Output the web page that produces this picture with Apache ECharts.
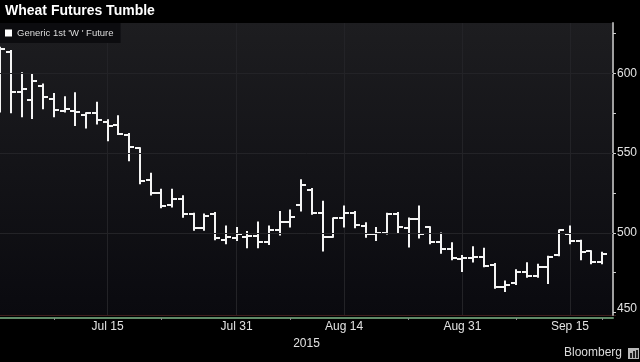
<!DOCTYPE html>
<html><head><meta charset="utf-8">
<script src="https://cdn.jsdelivr.net/npm/echarts@6/dist/echarts.min.js"></script>
<style>html,body{margin:0;padding:0;background:#000;}#c{width:640px;height:362px;}</style>
</head><body><div id="c"></div>
<script>
// ---- data ----
const dates = ['Jun 30','Jul 1','Jul 2','Jul 6','Jul 7','Jul 8','Jul 9','Jul 10','Jul 13','Jul 14',
  'Jul 15','Jul 16','Jul 17','Jul 20','Jul 21','Jul 22','Jul 23','Jul 24','Jul 27','Jul 28',
  'Jul 29','Jul 30','Jul 31','Aug 3','Aug 4','Aug 5','Aug 6','Aug 7','Aug 10','Aug 11',
  'Aug 12','Aug 13','Aug 14','Aug 17','Aug 18','Aug 19','Aug 20','Aug 21','Aug 24','Aug 25',
  'Aug 26','Aug 27','Aug 28','Aug 31','Sep 1','Sep 2','Sep 3','Sep 4','Sep 8','Sep 9',
  'Sep 10','Sep 11','Sep 14','Sep 15','Sep 16','Sep 17','Sep 18','Sep 21'];
const opens  = [595,613.5,588,583,592,584,576.5,576.5,574,575,
  569.5,567.5,561,553,533,525,517.5,521.5,511.5,503,
  512,495.5,497,497.5,498,494.5,501.5,507,517.5,527,
  512.5,497.5,509,512.5,504,499.5,500,512,503,508.5,
  503.5,494,490,483.5,484.5,485,480,466,468.5,475.5,
  473,478.5,486,499.5,495,488.5,481.5];
const highs  = [616,614,600,599,593,587,585,587.5,575,581.5,
  570.5,573,562,553,537,527,527,523,512,511.5,
  512.5,504,503,500.5,506.5,504,513,514,533,527.5,
  519.5,509,516.5,513,506,503,512,512.5,509,516.5,
  503.5,499.5,493.5,485.5,491,490,480.5,469.5,476.5,481,
  480,485,501.5,504,495,488.5,487.5];
const lows   = [576,575.5,573,572,578,573,576,567.5,566,568.5,
  558,562,545.5,531,524,516,516.5,510,502,502,
  496,493.5,495.5,491,491,493,499,504,514,512,
  489,497.5,504,503.5,497.5,495.5,499.5,500.5,491.5,497,
  493.5,487.5,483.5,476,482,479,465.5,463.5,468,472.5,
  472.5,468.5,486,493.5,483.5,481,481];
const closes = [615,588,590,595,585,577,577.5,575.5,575,570.5,
  567,562,553.5,532.5,525,516.5,521,511.5,503,510.5,
  496.5,497.5,499.5,498,494.5,502,507,510,530,512.5,
  497.5,509,512.5,505,499.5,500,512,503.5,508.5,499.5,
  494,490,484,484.5,485,479.5,466,467,475.5,473,
  478.5,485,501.5,495,488,481.5,487];
const seriesName = "Generic 1st 'W ' Future";
const xLabelDates = ['Jul 15','Jul 31','Aug 14','Aug 31','Sep 15'];
const xMinorTickDates = ['Jul 8','Jul 22','Aug 7','Aug 24','Sep 8','Sep 18'];
const yTickValues = [450,475,500,525,550,575,600,625];
const yLabelValues = [450,500,550,600];
const yGridValues = [500,550,600];

const ohlc = opens.map((o,i)=>[i,o,highs[i],lows[i],closes[i]]);

const chart = echarts.init(document.getElementById('c'), null, {renderer:'canvas'});
const FONT = 'Liberation Sans';

function renderItem(params, api){
  const idx = api.value(0);
  const x = Math.round(api.coord([idx, api.value(1)])[0]);
  const yo = Math.round(api.coord([idx, api.value(1)])[1]);
  const yh = api.coord([idx, api.value(2)])[1];
  const yl = api.coord([idx, api.value(3)])[1];
  const yc = Math.round(api.coord([idx, api.value(4)])[1]);
  const w = 5;
  const st = {stroke:'#f4f4f4', lineWidth:2};
  return {type:'group', children:[
    {type:'line', shape:{x1:x, y1:yh-1, x2:x, y2:yl+1}, style:st},
    {type:'line', shape:{x1:x-w, y1:yo, x2:x, y2:yo}, style:st},
    {type:'line', shape:{x1:x, y1:yc, x2:x+w, y2:yc}, style:st}
  ]};
}

chart.setOption({
  backgroundColor:'#000',
  animation:false,
  title:{text:'Wheat Futures Tumble', left:5, top:4, padding:0,
    textStyle:{color:'#ffffff', fontSize:14, fontWeight:'bold', fontFamily:FONT}},
  legend:{data:[seriesName], left:0, top:23, orient:'horizontal',
    padding:[5,7,5,5], backgroundColor:'#0c0c0f', borderRadius:0,
    icon:'rect', itemWidth:7, itemHeight:7, itemGap:0,
    textStyle:{color:'#dcdcdc', fontSize:9.5, fontFamily:FONT}},
  grid:{left:0, right:24, top:23, bottom:47, show:true, borderWidth:0,
    backgroundColor:new echarts.graphic.LinearGradient(0,0,0,1,[
      {offset:0,color:'#1d1d20'},{offset:1,color:'#0a0a0f'}])},
  xAxis:{type:'category', data:dates, boundaryGap:false, offset:3,
    axisLine:{show:true, lineStyle:{color:'#5f8a68', width:2}},
    axisTick:{show:true, length:2, lineStyle:{color:'#888'},
      interval:(i,v)=>xMinorTickDates.includes(v)},
    axisLabel:{color:'#e2e2e2', fontSize:12, fontFamily:FONT, margin:3,
      interval:(i,v)=>xLabelDates.includes(v)},
    splitLine:{show:true, lineStyle:{color:'#232327', width:1},
      interval:(i,v)=>xLabelDates.includes(v)},
    name:'2015', nameLocation:'middle', nameGap:15,
    nameTextStyle:{color:'#e2e2e2', fontSize:12, fontFamily:FONT}},
  yAxis:{type:'value', position:'right', min:448.5, max:631.5, scale:true,
    axisLine:{show:true, lineStyle:{color:'#a0a0a0', width:2}},
    axisTick:{show:true, length:3, customValues:yTickValues, lineStyle:{color:'#d0d0d0'}},
    axisLabel:{customValues:yLabelValues, color:'#e2e2e2', fontSize:12, fontFamily:FONT, margin:4,
      formatter:v=> v===450 ? '{b|450}' : String(v),
      rich:{b:{color:'#e2e2e2', fontSize:12, fontFamily:FONT, padding:[0,0,8,0]}}},
    splitLine:{show:false}},
  series:[{
    name:seriesName, type:'custom', renderItem:renderItem, data:ohlc,
    encode:{x:0, y:[1,2,3,4]}, itemStyle:{color:'#ffffff'}, clip:true,
    markLine:{silent:true, symbol:'none', label:{show:false},
      lineStyle:{color:'#232327', width:1, type:'solid'},
      data:yGridValues.map(v=>({yAxis:v}))}
  }],
  graphic:[
    {type:'line', shape:{x1:0, y1:315.5, x2:616, y2:315.5}, style:{stroke:'#3e1c1c', lineWidth:1}},
    {type:'text', x:564, y:353, style:{text:'Bloomberg', fill:'#dcdcdc', font:'12px "Liberation Sans"', verticalAlign:'middle'}},
    {type:'rect', shape:{x:628, y:348, width:11, height:11}, style:{fill:'#b8b8b8'}},
    {type:'rect', shape:{x:630, y:353, width:2, height:5}, style:{fill:'#222'}},
    {type:'rect', shape:{x:633, y:351, width:2, height:7}, style:{fill:'#222'}},
    {type:'rect', shape:{x:636, y:350, width:2, height:8}, style:{fill:'#222'}}
  ]
});
</script>
</body></html>
